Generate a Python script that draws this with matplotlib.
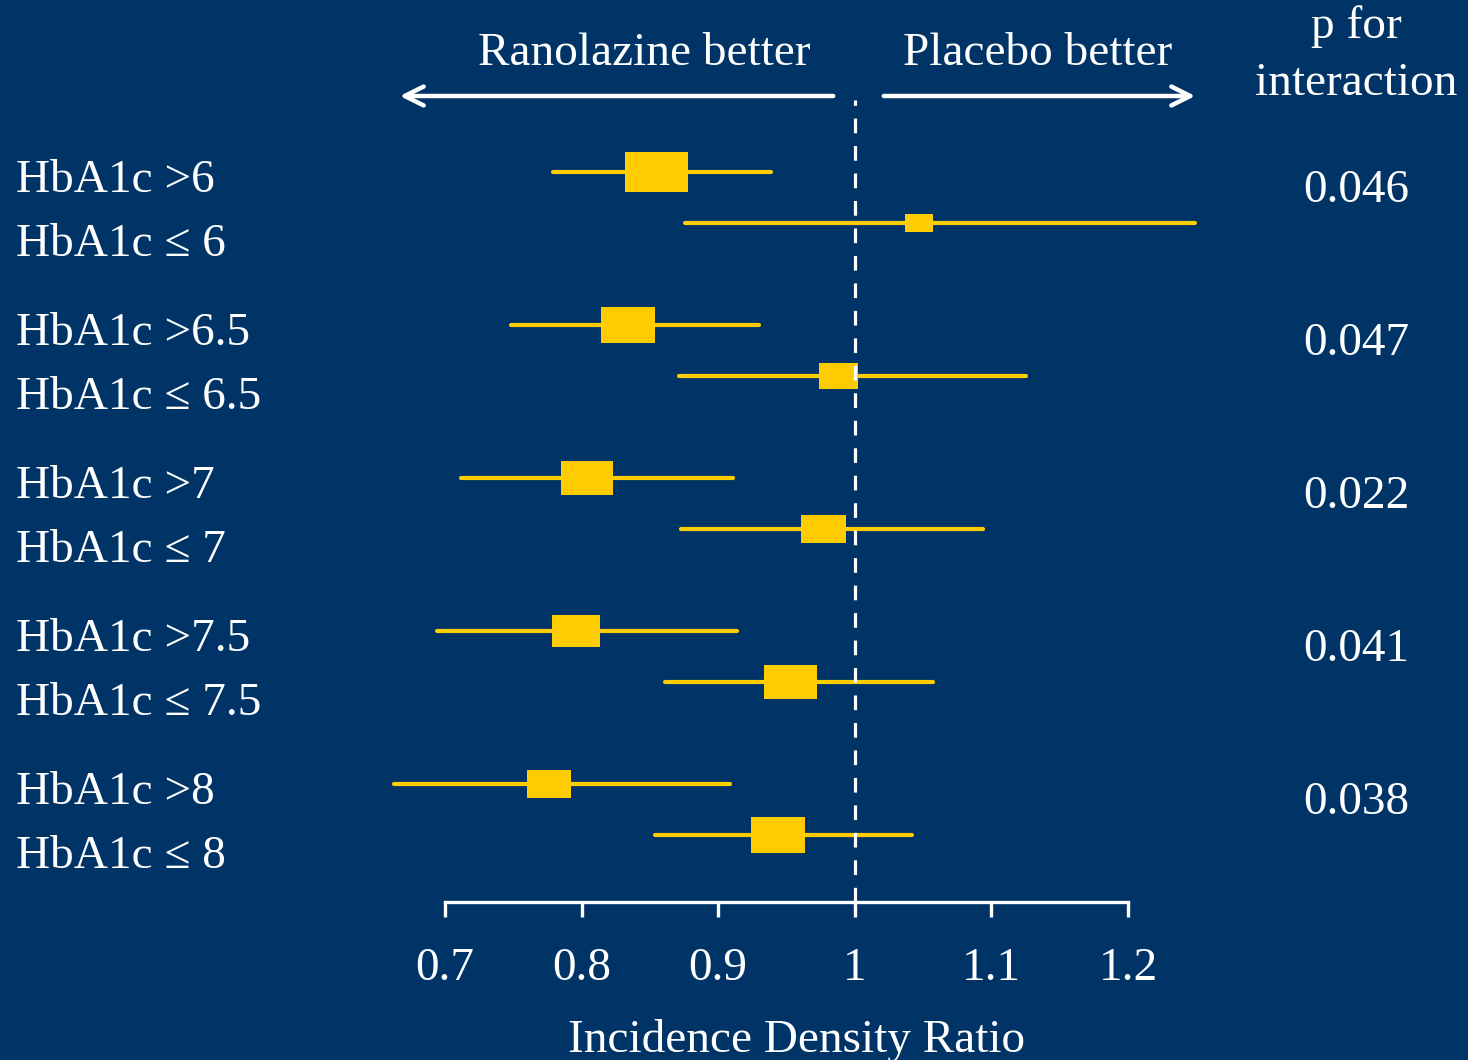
import matplotlib.pyplot as plt
from matplotlib.patches import Rectangle, FancyArrowPatch

# Subgroup forest plot: incidence density ratio by HbA1c cut-off
labels = ['HbA1c >6', 'HbA1c \u2264 6',
          'HbA1c >6.5', 'HbA1c \u2264 6.5',
          'HbA1c >7', 'HbA1c \u2264 7',
          'HbA1c >7.5', 'HbA1c \u2264 7.5',
          'HbA1c >8', 'HbA1c \u2264 8']
estimate = [0.855, 1.047, 0.834, 0.988, 0.804, 0.977, 0.796, 0.953, 0.776, 0.944]
ci_low = [0.779, 0.876, 0.748, 0.871, 0.712, 0.873, 0.694, 0.861, 0.663, 0.854]
ci_high = [0.939, 1.249, 0.930, 1.125, 0.911, 1.094, 0.914, 1.057, 0.909, 1.042]
weight = [1.0, 0.46, 0.86, 0.63, 0.84, 0.71, 0.76, 0.84, 0.70, 0.86]
p_interaction = ['0.046', '0.047', '0.022', '0.041', '0.038']
xticks = [0.7, 0.8, 0.9, 1.0, 1.1, 1.2]
xticklabels = ['0.7', '0.8', '0.9', '1', '1.1', '1.2']

BG = '#003466'
GOLD = '#FFCC00'
W, H = 1468, 1060
FS = 34

plt.rcParams['font.family'] = ['Liberation Serif', 'DejaVu Serif']

fig = plt.figure(figsize=(W / 100, H / 100), dpi=100, facecolor=BG)

# pixel helpers for figure-level text
def fx(px):
    return px / W

def fy(py):
    return 1 - py / H

ROW0, ROWH = 172, 51          # pixel y of first row and row pitch
AXIS_Y = 902                  # pixel y of the x axis line
X0_PX, PX_PER_UNIT = 445, 1366

def row_px(pos):
    return ROW0 + ROWH * pos

ax = fig.add_axes([0, fy(AXIS_Y), 1, AXIS_Y / H])
ax.set_facecolor(BG)
ax.set_xlim(0.7 - X0_PX / PX_PER_UNIT, 0.7 + (W - X0_PX) / PX_PER_UNIT)
ax.set_ylim((AXIS_Y - ROW0) / ROWH, -ROW0 / ROWH)

# row positions: pairs of rows with one blank row between groups
positions = [g * 3 + s for g in range(len(p_interaction)) for s in range(2)]

for pos, est, lo, hi, w in zip(positions, estimate, ci_low, ci_high, weight):
    ax.plot([lo, hi], [pos, pos], color=GOLD, lw=3, solid_capstyle='round', zorder=2)
    bw = w * 0.046
    bh = w * 0.80
    ax.add_patch(Rectangle((est - bw / 2, pos - bh / 2), bw, bh,
                           facecolor=GOLD, edgecolor='none', zorder=3))

# reference line at 1
ax.axvline(1.0, ymin=0, ymax=(AXIS_Y - 100) / AXIS_Y, color='white', lw=2.3,
           dashes=(4.6, 4), zorder=4)

# x axis
for side in ['top', 'right', 'left']:
    ax.spines[side].set_visible(False)
ax.spines['bottom'].set_color('white')
ax.spines['bottom'].set_linewidth(2.4)
ax.spines['bottom'].set_bounds(0.7, 1.2)
ax.set_yticks([])
ax.set_xticks(xticks)
ax.set_xticklabels(xticklabels)
ax.tick_params(axis='x', direction='out', length=11, width=2.4, colors='white',
               labelsize=FS, pad=22)

fig.text(fx(797), fy(1040), 'Incidence Density Ratio', color='white',
         fontsize=FS, ha='center', va='center')

# row labels
for i, (pos, lab) in enumerate(zip(positions, labels)):
    off = 0.18 if i % 2 == 0 else 0.42
    fig.text(fx(16), fy(row_px(pos + off)), lab, color='white', fontsize=FS,
             ha='left', va='center')

# p for interaction
for g, p in enumerate(p_interaction):
    fig.text(fx(1356), fy(row_px(g * 3 + 0.5 - 0.13)), p, color='white',
             fontsize=FS, ha='center', va='center')
fig.text(fx(1356), fy(27), 'p for', color='white', fontsize=FS, ha='center', va='center')
fig.text(fx(1356), fy(84), 'interaction', color='white', fontsize=FS,
         ha='center', va='center')

# direction headers with arrows
fig.text(fx(644), fy(54), 'Ranolazine better', color='white', fontsize=FS,
         ha='center', va='center')
fig.text(fx(1038), fy(54), 'Placebo better', color='white', fontsize=FS,
         ha='center', va='center')
arrow = dict(arrowstyle='->', color='white', lw=3.2, mutation_scale=34)
fig.patches.append(FancyArrowPatch((fx(836), fy(96)), (fx(397), fy(96)),
                                   transform=fig.transFigure, **arrow))
fig.patches.append(FancyArrowPatch((fx(881), fy(96)), (fx(1198), fy(96)),
                                   transform=fig.transFigure, **arrow))

fig.savefig('out.png', dpi=100, facecolor=BG)
